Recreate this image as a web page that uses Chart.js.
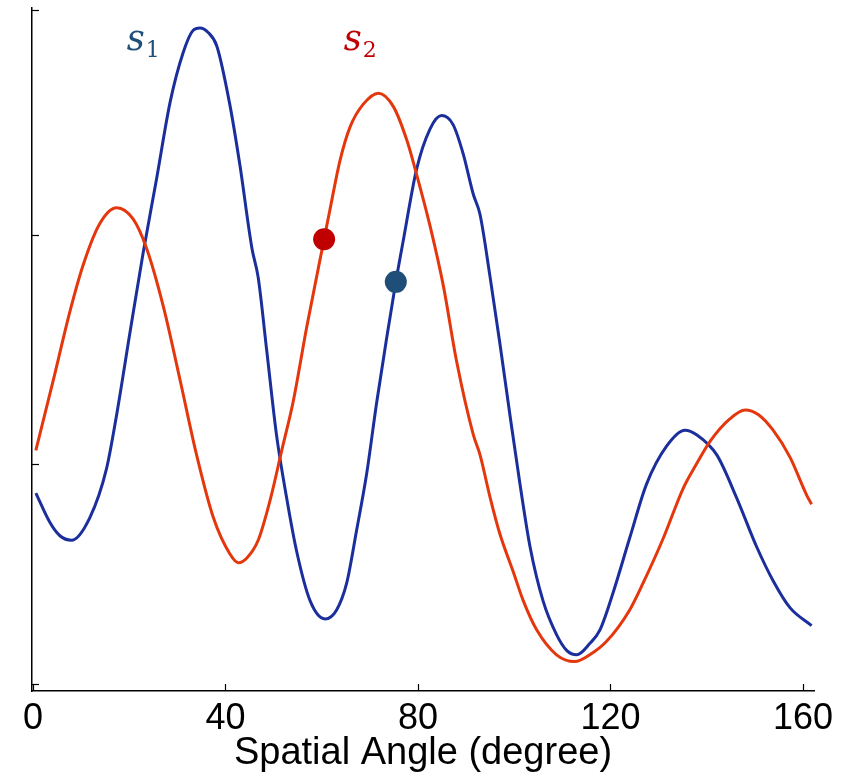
<!DOCTYPE html>
<html>
<head>
<meta charset="utf-8">
<script src="https://cdn.jsdelivr.net/npm/chart.js@4"></script>
<style>
  html, body { margin: 0; padding: 0; background: #ffffff; }
  #wrap { width: 850px; height: 776px; }
</style>
</head>
<body>
<div id="wrap"><canvas id="c" width="850" height="776"></canvas></div>
<script>
// ---- data ----
const s1Angle = [0.6, 3.5, 5.6, 8.0, 11.8, 15.3, 17.4, 20.2, 22.9, 25.7, 28.5, 31.2, 33.3, 34.7, 36.4, 38.2, 40.9, 43.0, 45.5, 46.8, 48.6, 50.6, 52.7, 54.8, 57.6, 60.7, 63.1, 65.2, 67.3, 69.3, 71.4, 73.5, 75.4, 77.0, 79.7, 82.5, 84.9, 87.3, 89.4, 91.5, 92.9, 95.0, 97.0, 99.1, 101.2, 103.3, 106.0, 108.8, 110.9, 113.0, 115.7, 117.8, 120.6, 124.0, 127.5, 131.7, 135.5, 137.9, 142.1, 146.2, 150.4, 153.8, 157.3, 161.8];
const s1Value = [0.85, 0.72, 0.66, 0.64, 0.74, 0.96, 1.20, 1.57, 1.92, 2.25, 2.59, 2.81, 2.91, 2.92, 2.90, 2.84, 2.58, 2.31, 1.94, 1.81, 1.48, 1.11, 0.83, 0.59, 0.37, 0.29, 0.33, 0.45, 0.69, 0.93, 1.25, 1.54, 1.79, 1.98, 2.29, 2.47, 2.53, 2.49, 2.36, 2.18, 2.09, 1.81, 1.52, 1.20, 0.89, 0.61, 0.37, 0.22, 0.15, 0.13, 0.18, 0.24, 0.41, 0.65, 0.89, 1.06, 1.13, 1.11, 1.02, 0.83, 0.61, 0.46, 0.34, 0.26];

const s2Angle = [0.6, 4.2, 7.7, 10.5, 13.9, 17.4, 20.8, 23.6, 27.1, 30.6, 34.0, 37.5, 40.9, 42.7, 44.4, 46.8, 49.3, 51.7, 54.1, 56.9, 60.5, 61.7, 63.8, 65.9, 68.6, 71.8, 74.9, 77.7, 79.7, 82.5, 85.3, 88.0, 91.5, 92.9, 95.0, 97.0, 99.8, 101.9, 104.7, 108.8, 112.6, 115.7, 119.2, 124.0, 126.8, 131.0, 135.1, 137.9, 140.7, 144.8, 148.0, 150.7, 153.8, 157.3, 160.8, 161.8];
const s2Value = [1.04, 1.35, 1.66, 1.87, 2.05, 2.12, 2.07, 1.94, 1.68, 1.35, 1.02, 0.74, 0.58, 0.54, 0.56, 0.64, 0.82, 1.04, 1.26, 1.59, 1.98, 2.11, 2.33, 2.48, 2.58, 2.63, 2.57, 2.42, 2.27, 2.04, 1.77, 1.44, 1.11, 1.02, 0.83, 0.67, 0.50, 0.37, 0.24, 0.13, 0.10, 0.13, 0.19, 0.33, 0.45, 0.65, 0.87, 0.98, 1.08, 1.18, 1.22, 1.20, 1.13, 1.01, 0.84, 0.80];

const markerAngle = [60.5, 75.4];
const markerValue = [1.98, 1.79];

const xTicks = [0, 40, 80, 120, 160];
const yTicks = [0, 0.98, 2, 3];

const seriesNames = ['s', 's'];
const seriesSubs = ['1', '2'];
const labelAngle = [19.5, 64.6];
const labelValue = [2.82, 2.82];

const xTitle = 'Spatial Angle (degree)';

// ---- styles ----
const lineColors = ['#1B2F9C', '#E5370E'];
const markerColors = ['#C00000', '#1F4E79'];
const labelColors = ['#1F4E79', '#C00000'];

const toPts = (xs, ys) => xs.map((x, i) => ({ x: x, y: ys[i] }));

const inwardTicks = {
  id: 'inwardTicks',
  afterDraw(chart) {
    const ctx = chart.ctx;
    const xs = chart.scales.x, ys = chart.scales.y;
    const area = chart.chartArea;
    ctx.save();
    ctx.strokeStyle = '#000';
    ctx.lineWidth = 1.2;
    yTicks.forEach(v => {
      const p = Math.round(ys.getPixelForValue(v)) + 0.5;
      ctx.beginPath();
      ctx.moveTo(area.left, p);
      ctx.lineTo(area.left + 7, p);
      ctx.stroke();
    });
    xTicks.forEach(v => {
      const p = Math.round(xs.getPixelForValue(v)) + 0.5;
      ctx.beginPath();
      ctx.moveTo(p, area.bottom);
      ctx.lineTo(p, area.bottom - 7);
      ctx.stroke();
    });
    // series names
    ctx.textBaseline = 'alphabetic';
    ctx.textAlign = 'left';
    seriesNames.forEach((n, i) => {
      const px = xs.getPixelForValue(labelAngle[i]);
      const py = ys.getPixelForValue(labelValue[i]);
      ctx.fillStyle = labelColors[i];
      ctx.font = 'italic 35px "DejaVu Serif", "Liberation Serif", serif';
      ctx.fillText(n, px, py);
      const w = ctx.measureText(n).width;
      ctx.font = '22px "DejaVu Serif", "Liberation Serif", serif';
      ctx.fillText(seriesSubs[i], px + w + 1, py + 7);
    });
    ctx.restore();
  }
};

new Chart(document.getElementById('c'), {
  type: 'line',
  data: {
    datasets: [
      { data: [{ x: markerAngle[0], y: markerValue[0] }], showLine: false, pointRadius: 11, pointHoverRadius: 11, pointBackgroundColor: markerColors[0], pointBorderWidth: 0, borderWidth: 0, order: 0 },
      { data: [{ x: markerAngle[1], y: markerValue[1] }], showLine: false, pointRadius: 11, pointHoverRadius: 11, pointBackgroundColor: markerColors[1], pointBorderWidth: 0, borderWidth: 0, order: 0 },
      { label: 's1', data: toPts(s1Angle, s1Value), borderColor: lineColors[0], borderWidth: 3, pointRadius: 0, cubicInterpolationMode: 'monotone', fill: false, order: 2 },
      { label: 's2', data: toPts(s2Angle, s2Value), borderColor: lineColors[1], borderWidth: 3, pointRadius: 0, cubicInterpolationMode: 'monotone', fill: false, order: 1 }
    ]
  },
  options: {
    responsive: false,
    animation: false,
    devicePixelRatio: 1,
    layout: { padding: { left: 32, top: 8, right: 36, bottom: 0 }, autoPadding: false },
    plugins: { legend: { display: false }, tooltip: { enabled: false } },
    scales: {
      x: {
        type: 'linear',
        min: -0.2,
        max: 162.3,
        afterBuildTicks: s => { s.ticks = xTicks.map(v => ({ value: v })); },
        afterFit: s => { s.height = 85; s.paddingLeft = 0; s.paddingRight = 0; },
        grid: { display: false, drawTicks: false },
        border: { display: true, color: '#000', width: 1.5 },
        ticks: {
          color: '#000',
          padding: 6,
          maxRotation: 0,
          autoSkip: false,
          font: { family: '"Liberation Sans", Arial, sans-serif', size: 36 },
          callback: v => String(v)
        },
        title: {
          display: true,
          text: xTitle,
          color: '#000',
          padding: { top: 0, bottom: 0 },
          font: { family: '"Liberation Sans", Arial, sans-serif', size: 38 }
        }
      },
      y: {
        type: 'linear',
        min: -0.031,
        max: 3.009,
        afterBuildTicks: s => { s.ticks = yTicks.map(v => ({ value: v })); },
        afterFit: s => { s.width = 0; s.paddingTop = 0; s.paddingBottom = 0; },
        grid: { display: false, drawTicks: false },
        border: { display: true, color: '#000', width: 1.5 },
        ticks: { display: false }
      }
    }
  },
  plugins: [inwardTicks]
});
</script>
</body>
</html>
